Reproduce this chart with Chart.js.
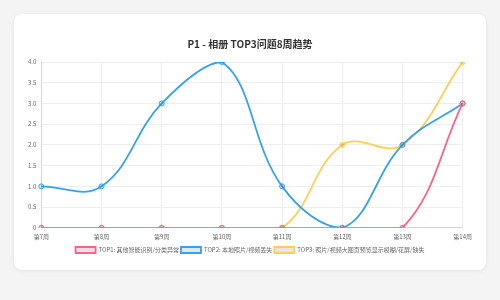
<!DOCTYPE html>
<html>
<head>
<meta charset="utf-8">
<script src="https://cdn.jsdelivr.net/npm/chart.js"></script>
<style>
  html, body { margin: 0; padding: 0; background: #f4f4f4; }
  .card {
    position: absolute; left: 14px; top: 14px; width: 472px; height: 256px;
    background: #fff; border-radius: 8px;
    box-shadow: 0 1px 4px rgba(0,0,0,0.08);
    box-sizing: border-box; padding: 14px 9px 7px 9px;
  }
  .wrap { position: relative; width: 100%; height: 100%; }
</style>
</head>
<body>
<div class="card"><div class="wrap"><canvas id="trendChart"></canvas></div></div>
<script>
// 周次
const weeks = ['第7周', '第8周', '第9周', '第10周', '第11周', '第12周', '第13周', '第14周'];
// 各问题每周数量
const top1 = [0, 0, 0, 0, 0, 0, 0, 3];
const top2 = [1, 1, 3, 4, 1, 0, 2, 3];
const top3 = [0, 0, 0, 0, 0, 2, 2, 4];
const seriesNames = ['TOP1: 其他智能识别/分类异常', 'TOP2: 本地照片/视频丢失', 'TOP3: 照片/视频大图页预览显示模糊/花屏/缺失'];

Chart.defaults.font.family = '"Noto Sans CJK SC", "Noto Sans", sans-serif';
Chart.defaults.font.size = 6;
Chart.defaults.color = '#666';

const ctx = document.getElementById('trendChart').getContext('2d');
new Chart(ctx, {
  type: 'line',
  data: {
    labels: weeks,
    datasets: [
      { label: seriesNames[0], data: top1, borderColor: 'rgb(255, 99, 132)', tension: 0.4, fill: false },
      { label: seriesNames[1], data: top2, borderColor: 'rgb(54, 162, 235)', tension: 0.4, fill: false },
      { label: seriesNames[2], data: top3, borderColor: 'rgb(255, 206, 86)', tension: 0.4, fill: false }
    ]
  },
  options: {
    responsive: true,
    maintainAspectRatio: false,
    animation: false,
    elements: { point: { radius: 2.5 }, line: { borderWidth: 1.8 } },
    plugins: {
      title: {
        display: true,
        text: 'P1 - 相册 TOP3问题8周趋势',
        color: '#333',
        font: { size: 10, weight: 'bold' },
        padding: { top: 10, bottom: 12 }
      },
      legend: {
        position: 'bottom',
        labels: { boxWidth: 20, boxHeight: 6, padding: 2 }
      }
    },
    scales: {
      x: { grid: { color: '#eee', drawTicks: false }, ticks: { padding: 5 } },
      y: {
        min: 0, max: 4,
        grid: { color: '#eee', drawTicks: false },
        ticks: { stepSize: 0.5, padding: 5, callback: v => v === 0 ? '0' : v.toFixed(1) }
      }
    }
  }
});
</script>
</body>
</html>
